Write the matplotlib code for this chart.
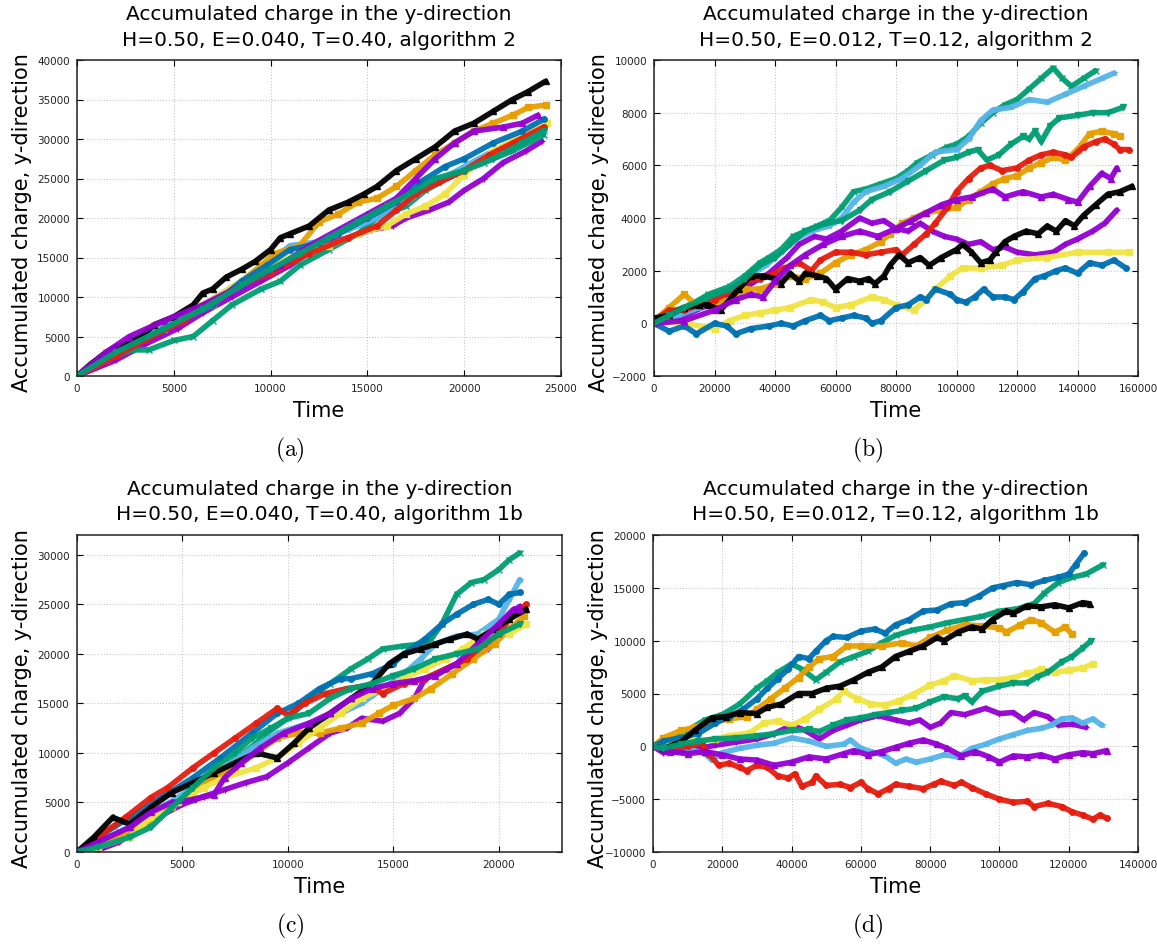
import matplotlib
matplotlib.use("Agg")
import matplotlib.pyplot as plt

# Accumulated y-charge vs. time, ten runs per panel.  Each run is a list of
# (time, charge) pairs.

# ---- (a) H=0.50, E=0.040, T=0.40, algorithm 2
A_PURPLE1 = [(0, 0), (2000, 2000), (3500, 4000), (5200, 6000), (6500, 8000), (8000, 10000),
             (9500, 12000), (11000, 14000), (12500, 16500), (14000, 17500), (15200, 18500),
             (16300, 19000), (17000, 20000), (18200, 21000), (19200, 22000), (20000, 23500),
             (21000, 25000), (22000, 27000), (23200, 28500), (24000, 29700)]
A_GREEN1 = [(0, 0), (1500, 2000), (2800, 3300), (3700, 3300), (5000, 4500), (6000, 5000),
            (7000, 7000), (8000, 9000), (9500, 11000), (10500, 12000), (11500, 14000),
            (13000, 16000), (14500, 18000), (15500, 20000), (17000, 21500), (18000, 23500),
            (19500, 25500), (21000, 27000), (22500, 28500), (24100, 30500)]
A_LBLUE = [(0, 0), (1500, 2800), (3000, 5000), (4500, 6500), (6500, 9000), (8500, 12000),
           (10000, 14500), (11000, 16500), (12500, 17000), (14000, 18500), (15500, 20000),
           (17000, 22000), (18500, 24500), (20000, 26500), (21500, 28500), (23000, 30000),
           (24100, 31000)]
A_ORANGE = [(0, 0), (2000, 3000), (4500, 6000), (7000, 9000), (8500, 12000), (9500, 14000),
            (10200, 15500), (11500, 16500), (12500, 19500), (13500, 20500), (14500, 22000),
            (15500, 22500), (16500, 24000), (17500, 26000), (18500, 28000), (19500, 29500),
            (20500, 31000), (21500, 32000), (22500, 33000), (23300, 34000), (24200, 34300)]
A_YELLOW = [(0, 0), (1500, 3000), (4000, 6500), (6500, 9000), (8500, 12000), (10000, 14000),
            (11000, 15000), (13000, 16500), (14500, 18000), (16000, 19000), (17000, 20500),
            (18000, 21500), (19000, 23000), (20000, 25500), (21500, 28500), (23000, 30500),
            (24300, 32000)]
A_BLUE = [(0, 0), (2000, 3000), (4500, 6000), (7000, 9000), (8500, 12000), (9800, 14000),
          (11000, 16000), (12500, 16800), (13500, 18000), (15000, 20000), (16500, 22000),
          (17700, 24500), (19000, 26500), (20000, 27500), (21500, 29500), (23000, 31000),
          (24100, 32500)]
A_RED = [(0, 0), (2000, 2500), (3500, 4500), (5500, 7000), (7000, 9500), (8500, 11500),
         (10000, 13000), (12000, 15500), (14000, 17500), (15500, 19000), (16500, 21000),
         (17500, 23000), (18700, 24500), (20000, 26000), (21300, 28000), (22500, 29500),
         (24100, 31500)]
A_BLACK = [(0, 0), (700, 1500), (1500, 3000), (2000, 3700), (2700, 4200), (3300, 5000),
           (4000, 6500), (5000, 7500), (6000, 9000), (6500, 10500), (7000, 11000), (7700, 12500),
           (8500, 13500), (9200, 14500), (10000, 16000), (10500, 17500), (11000, 18000),
           (12000, 19000), (13000, 21000), (14000, 22000), (14800, 23000), (15500, 24000),
           (16500, 26000), (17500, 27500), (18500, 29000), (19500, 31000), (20500, 32000),
           (21500, 33500), (22500, 35000), (23300, 36000), (24200, 37300)]
A_PURPLE2 = [(0, 0), (1500, 3000), (2700, 5000), (4500, 7000), (6500, 9000), (8500, 11500),
             (10500, 14000), (12000, 16500), (13500, 18500), (15000, 20500), (16500, 22500),
             (17500, 25000), (18500, 27500), (19500, 29500), (20500, 31000), (22000, 31500),
             (23000, 32000), (23800, 33000)]
A_GREEN2 = [(0, 0), (2000, 3000), (4500, 6000), (6500, 8500), (8500, 11500), (10000, 13500),
            (11500, 15500), (13000, 17500), (14500, 19500), (16000, 21500), (17500, 23500),
            (18500, 25000), (20000, 26000), (21500, 27500), (23000, 29500), (24100, 31000)]

# ---- (b) H=0.50, E=0.012, T=0.12, algorithm 2
B_PURPLE1 = [(0, 0), (8000, 200), (18000, 700), (25000, 1100), (32000, 1500), (38000, 1900),
             (44000, 2500), (48000, 3000), (53000, 3300), (57000, 3200), (62000, 3500),
             (68000, 4000), (72000, 3800), (76000, 3900), (80000, 3600), (84000, 3500),
             (88000, 3800), (92000, 3500), (96000, 3300), (100000, 3200), (104000, 3000),
             (108000, 3100), (112000, 2800), (116000, 2900), (120000, 2700), (126000, 2600),
             (132000, 2700), (136000, 3000), (140000, 3200), (145000, 3500), (149000, 3800),
             (153000, 4300)]
B_GREEN1 = [(0, 0), (5000, 400), (12000, 700), (18000, 1100), (25000, 1400), (30000, 1800),
            (35000, 2300), (38000, 2500), (42000, 2800), (46000, 3300), (50000, 3500),
            (54000, 3700), (58000, 3900), (62000, 4400), (66000, 5000), (70000, 5100),
            (75000, 5300), (80000, 5500), (84000, 5800), (87000, 6100), (92000, 6400),
            (97000, 6700), (100000, 6800), (104000, 7100), (108000, 7600), (112000, 8000),
            (116000, 8300), (120000, 8500), (124000, 8900), (128000, 9300), (132000, 9700),
            (135000, 9300), (138000, 9000), (142000, 9300), (146000, 9600)]
B_LBLUE = [(0, 0), (8000, 300), (15000, 600), (22000, 1100), (30000, 1700), (37000, 2200),
           (42000, 2700), (47000, 3200), (52000, 3500), (58000, 3700), (62000, 4000),
           (66000, 4600), (70000, 5000), (76000, 5200), (82000, 5500), (88000, 6000),
           (93000, 6500), (100000, 6600), (104000, 7000), (108000, 7700), (112000, 8100),
           (118000, 8200), (124000, 8500), (130000, 8400), (136000, 8700), (142000, 9000),
           (148000, 9300), (152000, 9500)]
B_ORANGE = [(0, 100), (5000, 600), (10000, 1100), (14000, 700), (20000, 800), (25000, 900),
            (30000, 1300), (35000, 1300), (40000, 1500), (45000, 1800), (50000, 1700),
            (55000, 1900), (60000, 2300), (65000, 2600), (70000, 2800), (75000, 3100),
            (78000, 3400), (82000, 3800), (86000, 4000), (90000, 4200), (95000, 4300),
            (100000, 4400), (104000, 4700), (108000, 5000), (112000, 5300), (116000, 5500),
            (120000, 5600), (124000, 5900), (128000, 6100), (132000, 6300), (136000, 6200),
            (140000, 6600), (144000, 7200), (148000, 7300), (152000, 7200), (154000, 7100)]
B_YELLOW = [(0, 100), (10000, 0), (20000, -200), (25000, 100), (30000, 300), (35000, 400),
            (40000, 500), (45000, 600), (52000, 900), (56000, 800), (60000, 600), (65000, 700),
            (72000, 1000), (76000, 900), (80000, 700), (86000, 500), (90000, 900),
            (93000, 1300), (98000, 1800), (102000, 2100), (108000, 2100), (115000, 2200),
            (120000, 2400), (130000, 2500), (140000, 2700), (150000, 2700), (157000, 2700)]
B_BLUE = [(0, 0), (5000, -300), (10000, -100), (14000, -400), (20000, 0), (24000, -100),
          (27000, -400), (32000, -200), (38000, -100), (42000, 0), (46000, -100), (50000, 100),
          (55000, 300), (58000, 100), (62000, 200), (66000, 300), (70000, 200), (72000, 0),
          (75000, 100), (80000, 600), (84000, 700), (88000, 1000), (90000, 900), (93000, 1300),
          (98000, 1100), (100000, 900), (103000, 800), (106000, 1000), (109000, 1300),
          (112000, 1000), (116000, 1000), (119000, 900), (122000, 1200), (126000, 1700),
          (129000, 1800), (133000, 2000), (136000, 2100), (140000, 1900), (144000, 2300),
          (148000, 2200), (152000, 2400), (156000, 2100)]
B_RED = [(0, 100), (5000, 500), (10000, 500), (15000, 700), (20000, 900), (25000, 1200),
         (30000, 1600), (35000, 1700), (40000, 1900), (43000, 2100), (48000, 2300),
         (52000, 2000), (55000, 2400), (60000, 2700), (65000, 2700), (70000, 2600),
         (75000, 2700), (80000, 2800), (82000, 2600), (86000, 3000), (90000, 3400),
         (93000, 3800), (97000, 4400), (100000, 5000), (104000, 5500), (108000, 5900),
         (111000, 6000), (115000, 5800), (120000, 5900), (124000, 6200), (128000, 6400),
         (132000, 6500), (136000, 6400), (138000, 6300), (142000, 6700), (146000, 6900),
         (149000, 7000), (152000, 6800), (154000, 6600), (157000, 6600)]
B_BLACK = [(0, 200), (5000, 300), (10000, 600), (15000, 700), (18000, 700), (22000, 500),
           (25000, 900), (28000, 1300), (32000, 1800), (36000, 1800), (40000, 1700),
           (42000, 1500), (45000, 1900), (48000, 1600), (50000, 1900), (54000, 1800),
           (57000, 1700), (60000, 1300), (64000, 1700), (68000, 1600), (71000, 1700),
           (73000, 1500), (76000, 1800), (78000, 2200), (81000, 2600), (84000, 2300),
           (88000, 2500), (91000, 2200), (95000, 2500), (100000, 2800), (102000, 3000),
           (105000, 2700), (108000, 2300), (111000, 2400), (113000, 2700), (116000, 3100),
           (119000, 3300), (123000, 3500), (127000, 3400), (130000, 3700), (133000, 3500),
           (136000, 3900), (139000, 3700), (142000, 4100), (146000, 4500), (150000, 4900),
           (154000, 5000), (158000, 5200)]
B_PURPLE2 = [(0, 0), (10000, 100), (20000, 500), (27000, 900), (32000, 1100), (36000, 1000),
             (40000, 1600), (45000, 2200), (50000, 2600), (56000, 3000), (62000, 3300),
             (68000, 3500), (74000, 3300), (80000, 3600), (85000, 3900), (90000, 4200),
             (95000, 4500), (100000, 4700), (105000, 4800), (112000, 5100), (116000, 4800),
             (122000, 5000), (128000, 4800), (132000, 4900), (137000, 4700), (140000, 4600),
             (144000, 5200), (148000, 5700), (151000, 5500), (153000, 5900)]
B_GREEN2 = [(0, 0), (5000, 300), (10000, 600), (18000, 1000), (25000, 1300), (30000, 1700),
            (35000, 2200), (40000, 2500), (45000, 3000), (50000, 3500), (57000, 3800),
            (62000, 3900), (68000, 4300), (72000, 4700), (78000, 5000), (84000, 5400),
            (90000, 5800), (96000, 6200), (100000, 6300), (104000, 6500), (107000, 6600),
            (110000, 6200), (114000, 6400), (118000, 6800), (122000, 7100), (124000, 7000),
            (126000, 7300), (128000, 6900), (131000, 7500), (134000, 7800), (140000, 7900),
            (145000, 8000), (150000, 8000), (155000, 8200)]

# ---- (c) H=0.50, E=0.040, T=0.40, algorithm 1b
C_PURPLE1 = [(0, 0), (1000, 200), (2000, 1000), (3000, 2500), (4000, 3700), (5000, 4800),
             (6000, 5600), (7000, 6300), (8000, 7000), (9000, 7600), (10000, 9000),
             (11000, 10500), (12000, 12000), (12800, 12500), (13500, 13500), (14500, 13200),
             (15300, 14000), (16000, 15500), (16500, 17500), (17500, 18500), (18500, 19500),
             (19500, 20500), (20000, 22500), (20500, 24000), (21000, 24800)]
C_GREEN1 = [(0, 0), (1000, 1000), (2000, 2000), (3000, 3000), (4500, 4500), (5500, 6000),
            (6500, 7500), (7300, 9000), (8500, 11000), (9000, 12000), (10000, 13500),
            (11000, 15500), (12000, 17000), (13000, 18500), (13800, 19500), (14500, 20500),
            (15500, 20800), (16300, 21000), (16800, 21500), (17300, 23000), (18000, 26000),
            (18700, 27200), (19300, 27500), (20000, 28500), (20500, 29500), (21000, 30200)]
C_LBLUE = [(0, 0), (1000, 1000), (2500, 2500), (4000, 4500), (5500, 6500), (7000, 8500),
           (8300, 10500), (9500, 12000), (11000, 13000), (12500, 14000), (13500, 15000),
           (14500, 16500), (15500, 18000), (16300, 19500), (17000, 21000), (18000, 21800),
           (19000, 22000), (20000, 23500), (20500, 25500), (21000, 27500)]
C_ORANGE = [(0, 0), (1000, 500), (2000, 1500), (3500, 3000), (4500, 4500), (5500, 6000),
            (6500, 7500), (7500, 8500), (8500, 10000), (9500, 11500), (10500, 12000),
            (11500, 12000), (12500, 12500), (13500, 13000), (14300, 14000), (15000, 14800),
            (16000, 15500), (16800, 16500), (17800, 18000), (18800, 19500), (19800, 21000),
            (20500, 22500), (21200, 23800)]
C_YELLOW = [(0, 0), (1000, 500), (2500, 1500), (3500, 3500), (4800, 5000), (6000, 6500),
            (7000, 7500), (8500, 8500), (9500, 9500), (10500, 11000), (11500, 12500),
            (12500, 14000), (13500, 15500), (14500, 16500), (15500, 17500), (16500, 18500),
            (17500, 19500), (18300, 20500), (19300, 22000), (20000, 22500), (20500, 22000),
            (21300, 23000)]
C_BLUE = [(0, 0), (1000, 1500), (2500, 3500), (4000, 5500), (5500, 7500), (6800, 9500),
          (8300, 12000), (9500, 14000), (10500, 15000), (11500, 16500), (12500, 17500),
          (13000, 17500), (14000, 18000), (15000, 19000), (15500, 20000), (16500, 21500),
          (17300, 23000), (18000, 24000), (18800, 25000), (19500, 25500), (20000, 25000),
          (20500, 26000), (21000, 26200)]
C_RED = [(0, 0), (1000, 1500), (2300, 3500), (3500, 5500), (4300, 6500), (5500, 8500),
         (6500, 10000), (7500, 11500), (8500, 13000), (9500, 14500), (10000, 13800),
         (10800, 15000), (11800, 16000), (12800, 16500), (13800, 16800), (14500, 16000),
         (15500, 17000), (16500, 17500), (17500, 18500), (18500, 19500), (19300, 21000),
         (20000, 22000), (20500, 23500), (21300, 25000)]
C_BLACK = [(0, 0), (800, 1500), (1700, 3500), (2500, 2800), (3500, 4500), (4500, 6000),
           (5500, 7000), (6500, 8000), (7500, 9000), (8500, 10000), (9500, 9500),
           (10300, 11000), (11000, 12500), (12000, 14000), (13000, 15500), (14000, 17000),
           (14800, 19000), (15500, 20000), (16300, 20500), (17000, 21000), (17700, 21500),
           (18500, 22000), (19000, 21500), (19800, 22500), (20500, 23500), (21300, 24500)]
C_PURPLE2 = [(0, 0), (1000, 1000), (2500, 2500), (3500, 4000), (4500, 5000), (5500, 5300),
             (6500, 5800), (7000, 7500), (7800, 9000), (8700, 10500), (9800, 12000),
             (11000, 13000), (12000, 14000), (13000, 15500), (14000, 16500), (15000, 17000),
             (16000, 17300), (17000, 17800), (18000, 19000), (19000, 21000), (20000, 23000),
             (20700, 24500), (21000, 24500)]
C_GREEN2 = [(0, 0), (1000, 500), (2500, 1500), (3500, 2500), (4500, 4500), (5500, 6500),
            (6500, 8500), (7500, 10000), (8300, 11500), (9200, 12500), (10000, 13500),
            (11000, 14000), (12000, 15500), (13000, 16500), (14000, 17000), (15000, 17800),
            (16000, 18500), (17000, 19500), (18000, 20000), (19000, 20500), (20000, 22000),
            (21000, 23000)]

# ---- (d) H=0.50, E=0.012, T=0.12, algorithm 1b
D_PURPLE1 = [(0, 0), (3000, -600), (8000, -500), (13000, -200), (18000, 100), (24000, 400),
             (30000, 700), (35000, 1200), (40000, 2000), (44000, 1500), (48000, 700),
             (52000, 1500), (56000, 2000), (60000, 2500), (65000, 2900), (70000, 2500),
             (74000, 2200), (77000, 2500), (80000, 1800), (83000, 2200), (86000, 3200),
             (90000, 3000), (96000, 3600), (100000, 3100), (104000, 3200), (107000, 2500),
             (110000, 3200), (114000, 2800), (117000, 2000), (121000, 2100), (125000, 1800)]
D_GREEN1 = [(0, 0), (5000, 500), (10000, 1500), (15000, 2500), (20000, 3000), (25000, 4000),
            (30000, 5500), (33000, 6200), (36000, 7000), (40000, 7800), (43000, 7300),
            (47000, 6300), (50000, 7000), (54000, 8000), (58000, 8500), (62000, 9000),
            (66000, 9800), (70000, 10500), (75000, 11000), (80000, 11300), (85000, 11700),
            (90000, 12000), (95000, 12300), (100000, 12800), (105000, 13000), (110000, 13500),
            (113000, 14500), (117000, 15500), (121000, 16000), (125000, 16300), (130000, 17200)]
D_LBLUE = [(0, 0), (5000, 200), (10000, -200), (15000, -700), (17000, -1300), (20000, -600),
           (25000, -200), (30000, 100), (35000, 300), (40000, 800), (45000, 500), (50000, 0),
           (55000, 200), (57000, 600), (60000, -200), (64000, -600), (67000, -900),
           (70000, -1600), (73000, -1200), (76000, -1500), (80000, -1200), (84000, -800),
           (88000, -1000), (92000, -200), (96000, 200), (100000, 700), (104000, 1100),
           (108000, 1500), (112000, 1700), (115000, 2000), (118000, 2600), (121000, 2700),
           (124000, 2200), (127000, 2600), (129500, 2000)]
D_ORANGE = [(0, 0), (3000, 800), (8000, 1500), (12000, 1800), (17000, 2300), (22000, 2600),
            (27000, 2800), (30000, 3500), (34000, 4500), (38000, 5500), (42000, 6500),
            (45000, 7500), (48000, 8300), (52000, 8500), (56000, 9500), (60000, 9500),
            (66000, 9500), (72000, 9800), (76000, 9500), (80000, 10300), (85000, 11000),
            (90000, 11500), (95000, 11400), (100000, 11200), (102000, 10800), (106000, 11500),
            (109000, 12000), (112000, 11700), (116000, 10800), (119000, 11300), (121000, 10600)]
D_YELLOW = [(0, 0), (5000, 300), (12000, 500), (18000, 700), (22000, 1000), (28000, 1300),
            (32000, 2200), (36000, 2400), (40000, 2000), (44000, 2600), (48000, 3500),
            (53000, 4500), (55000, 5200), (59000, 4500), (63000, 4000), (67000, 3900),
            (71000, 4300), (75000, 4900), (80000, 5800), (84000, 6200), (87000, 6700),
            (92000, 6200), (96000, 6300), (100000, 6300), (104000, 6500), (108000, 6900),
            (112000, 7300), (116000, 7000), (120000, 7200), (124000, 7400), (127000, 7800)]
D_BLUE = [(0, 0), (3000, 500), (8000, 800), (13000, 1200), (18000, 2200), (22000, 2800),
          (26000, 3500), (30000, 4500), (33000, 5500), (36000, 6400), (39000, 7300),
          (42000, 8500), (45000, 8300), (47000, 9000), (50000, 10000), (52000, 10400),
          (56000, 10300), (60000, 10900), (64000, 11100), (67000, 10700), (70000, 11500),
          (74000, 12000), (78000, 12800), (82000, 12900), (86000, 13500), (90000, 13600),
          (94000, 14200), (98000, 15000), (101000, 15200), (105000, 15500), (109000, 15300),
          (113000, 15700), (117000, 16000), (120000, 16300), (122000, 17200), (124500, 18300)]
D_RED = [(0, 0), (5000, -300), (10000, 0), (14000, 300), (16000, -700), (19000, -1800),
         (22000, -1600), (25000, -2000), (27000, -2300), (30000, -1800), (33000, -2000),
         (36000, -2800), (39000, -3000), (41000, -2600), (43000, -3800), (46000, -3400),
         (47000, -2800), (50000, -3700), (54000, -3600), (57000, -3900), (60000, -3400),
         (62000, -4000), (65000, -4500), (68000, -4000), (70000, -3600), (74000, -3800),
         (78000, -4000), (81000, -3600), (83000, -3300), (87000, -3700), (89000, -3400),
         (92000, -3900), (96000, -4500), (100000, -5000), (104000, -5300), (108000, -5200),
         (110000, -5700), (114000, -5400), (118000, -5700), (121000, -6200), (124000, -6500),
         (127000, -6900), (129000, -6500), (131000, -6800)]
D_BLACK = [(0, 0), (3000, -200), (8000, 400), (12000, 1500), (17000, 2700), (21000, 2800),
           (25000, 3200), (30000, 3100), (33000, 3700), (37000, 4000), (42000, 5000),
           (46000, 5000), (50000, 5500), (54000, 5700), (58000, 6300), (62000, 7000),
           (66000, 7500), (70000, 8500), (74000, 9000), (78000, 9500), (82000, 10300),
           (84000, 10000), (88000, 10800), (92000, 11300), (95000, 11100), (98000, 12000),
           (102000, 12800), (104000, 12600), (108000, 13300), (112000, 13200), (116000, 13400),
           (120000, 13100), (124000, 13600), (126000, 13500)]
D_PURPLE2 = [(0, 0), (5000, -500), (10000, -700), (15000, -500), (20000, -800), (25000, -1200),
             (30000, -1300), (35000, -1800), (40000, -1500), (45000, -1000), (50000, -1200),
             (55000, -700), (58000, -400), (62000, -800), (66000, -500), (70000, -100),
             (74000, 300), (78000, 600), (82000, 200), (85000, -200), (89000, -900),
             (93000, -500), (97000, -1000), (100000, -1500), (104000, -900), (108000, -1000),
             (112000, -800), (116000, -1200), (120000, -800), (124000, -600), (127000, -700),
             (131000, -400)]
D_GREEN2 = [(0, 0), (3000, -200), (8000, 200), (13000, 500), (18000, 700), (24000, 800),
            (30000, 1000), (35000, 1200), (40000, 1500), (45000, 1600), (48000, 1400),
            (52000, 2000), (56000, 2500), (60000, 2700), (64000, 3000), (68000, 3200),
            (72000, 3400), (76000, 3600), (80000, 4200), (84000, 4700), (88000, 4500),
            (90000, 4800), (92000, 4200), (95000, 5200), (100000, 5700), (104000, 6000),
            (108000, 6000), (111000, 6600), (114000, 7000), (118000, 8000), (121000, 8500),
            (124000, 9300), (126500, 10000)]

# gnuplot-style line types: colour and point type
LINE_TYPES = [
    ("#9400D3", "+"),
    ("#009E73", "x"),
    ("#56B4E9", "*"),
    ("#E69F00", "s"),
    ("#F0E442", "s"),
    ("#0072B2", "o"),
    ("#E51E10", "o"),
    ("#000000", "^"),
    ("#9400D3", "^"),
    ("#009E73", "v"),
]

PANELS = [
    dict(runs=[A_PURPLE1, A_GREEN1, A_LBLUE, A_ORANGE, A_YELLOW, A_BLUE, A_RED, A_BLACK,
               A_PURPLE2, A_GREEN2],
         title="H=0.50, E=0.040, T=0.40, algorithm 2", tag="(a)",
         xlim=(0, 25000), xticks=range(0, 25001, 5000),
         ylim=(0, 40000), yticks=range(0, 40001, 5000),
         box=(77, 61, 561, 377), col=0),
    dict(runs=[B_PURPLE1, B_GREEN1, B_LBLUE, B_ORANGE, B_YELLOW, B_BLUE, B_RED, B_BLACK,
               B_PURPLE2, B_GREEN2],
         title="H=0.50, E=0.012, T=0.12, algorithm 2", tag="(b)",
         xlim=(0, 160000), xticks=range(0, 160001, 20000),
         ylim=(-2000, 10000), yticks=range(-2000, 10001, 2000),
         box=(654, 61, 1138, 377), col=1),
    dict(runs=[C_PURPLE1, C_GREEN1, C_LBLUE, C_ORANGE, C_YELLOW, C_BLUE, C_RED, C_BLACK,
               C_PURPLE2, C_GREEN2],
         title="H=0.50, E=0.040, T=0.40, algorithm 1b", tag="(c)",
         xlim=(0, 23000), xticks=range(0, 20001, 5000),
         ylim=(0, 32000), yticks=range(0, 30001, 5000),
         box=(77, 536, 562, 853), col=0),
    dict(runs=[D_PURPLE1, D_GREEN1, D_LBLUE, D_ORANGE, D_YELLOW, D_BLUE, D_RED, D_BLACK,
               D_PURPLE2, D_GREEN2],
         title="H=0.50, E=0.012, T=0.12, algorithm 1b", tag="(d)",
         xlim=(0, 140000), xticks=range(0, 140001, 20000),
         ylim=(-10000, 20000), yticks=range(-10000, 20001, 5000),
         box=(653, 536, 1138, 853), col=1),
]

W, H = 1157, 945
fig = plt.figure(figsize=(W / 100, H / 100), dpi=100)
plt.rcParams["font.family"] = "DejaVu Sans"
plt.rcParams["mathtext.fontset"] = "cm"


def fx(px):
    return px / W


def fy(py):
    return 1 - py / H


for p in PANELS:
    l, t, r, b = p["box"]
    ax = fig.add_axes([fx(l), fy(b), (r - l) / W, (b - t) / H])

    for run, (color, mk) in zip(p["runs"], LINE_TYPES):
        x = [pt[0] for pt in run]
        y = [pt[1] for pt in run]
        ax.plot(x, y, color=color, lw=4.0, solid_joinstyle="round", solid_capstyle="round",
                marker=mk, ms=4, mew=1.0, mfc=color, mec=color, alpha=0.95, zorder=2)

    ax.set_xlim(*p["xlim"])
    ax.set_ylim(*p["ylim"])
    ax.set_xticks(list(p["xticks"]))
    ax.set_yticks(list(p["yticks"]))
    ax.grid(True, color="#c8c8c8", ls=":", lw=0.8)
    ax.set_axisbelow(True)
    ax.tick_params(direction="in", top=True, right=True, length=4, width=0.8,
                   labelsize=7.5, labelcolor="#222222", pad=5)
    for s in ax.spines.values():
        s.set_linewidth(1.1)
        s.set_color("#222222")

    cx = (l + r) / 2
    fig.text(fx(cx), fy(t - 46), "Accumulated charge in the y-direction",
             ha="center", va="center", fontsize=14.5)
    fig.text(fx(cx), fy(t - 21), p["title"], ha="center", va="center", fontsize=14.5)
    fig.text(fx(cx), fy(b + 34), "Time", ha="center", va="center", fontsize=15)
    fig.text(fx(l - 55), fy((t + b) / 2 + 4), "Accumulated charge, y-direction",
             rotation=90, ha="center", va="center", fontsize=15)
    fig.text(fx(p["col"] * 578 + 290), fy(b + 73), r"$\mathrm{" + p["tag"] + "}$",
             ha="center", va="center", fontsize=17)

fig.savefig("out.png", dpi=100)
